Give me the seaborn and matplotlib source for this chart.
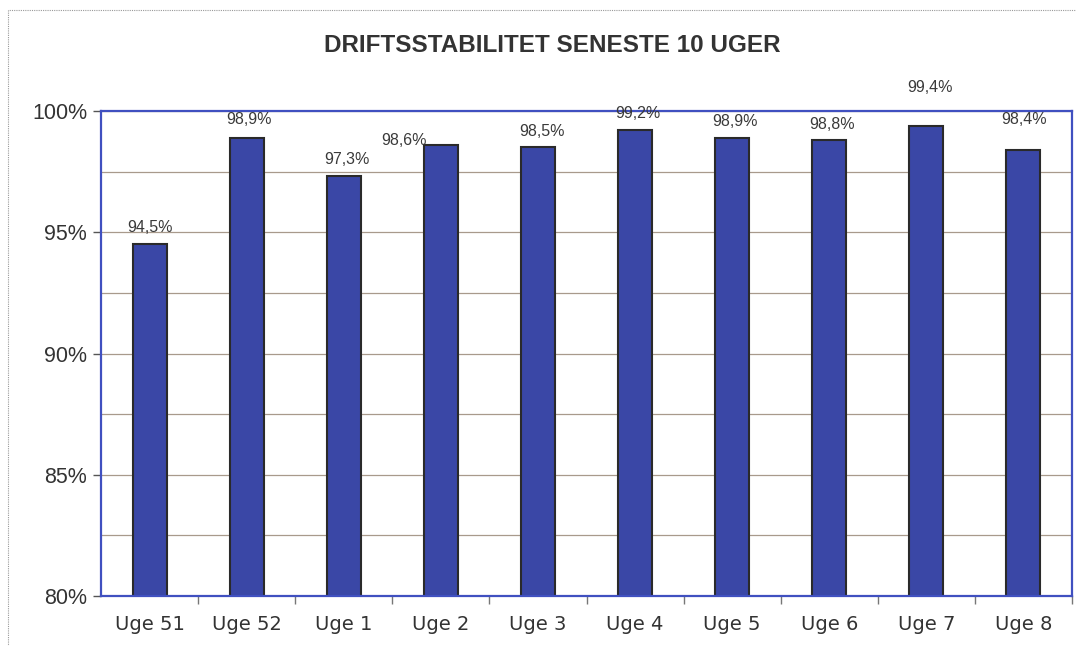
import matplotlib
matplotlib.use("Agg")
import matplotlib.pyplot as plt
import matplotlib.ticker as mticker
from matplotlib.patches import Rectangle
import seaborn as sns
import pandas as pd

weeks = ["Uge 51", "Uge 52", "Uge 1", "Uge 2", "Uge 3",
         "Uge 4", "Uge 5", "Uge 6", "Uge 7", "Uge 8"]
stability = [94.5, 98.9, 97.3, 98.6, 98.5, 99.2, 98.9, 98.8, 99.4, 98.4]

# label offsets in pixels (the labels in the original sit a bit irregularly)
label_dx = [0, 2, 3, -37, 4, 3, 3, 3, 4, 1]
label_dy = [17, 18, 17, 4, 16, 17, 16, 16, 38, 30]

df = pd.DataFrame({"week": weeks, "value": stability})

sns.set_theme(style="white")
plt.rcParams["font.family"] = ["Liberation Sans", "DejaVu Sans"]

fig = plt.figure(figsize=(10.76, 6.46), dpi=100)
ax = fig.add_axes([101 / 1076, 1 - 596 / 646, 971 / 1076, 485 / 646])

sns.barplot(data=df, x="week", y="value", color="#3a47a6", saturation=1,
            width=0.35, edgecolor="#2a2a2a", linewidth=1.5, ax=ax)

ax.set_ylim(80, 100)
ax.set_xlim(-0.5, len(weeks) - 0.5)
ax.yaxis.set_major_locator(mticker.MultipleLocator(5))
ax.yaxis.set_minor_locator(mticker.MultipleLocator(2.5))
ax.yaxis.set_major_formatter(mticker.FuncFormatter(lambda v, p: f"{v:.0f}%"))
ax.grid(True, axis="y", which="both", color="#a89a8c", linewidth=0.9)
ax.set_axisbelow(True)
ax.set_xlabel("")
ax.set_ylabel("")

for s in ax.spines.values():
    s.set_color("#4050c0")
    s.set_linewidth(1.6)

ax.tick_params(axis="y", which="major", left=True, length=6, width=1,
               color="#555555", labelsize=15.5, labelcolor="#333333", pad=4)
ax.tick_params(axis="y", which="minor", left=False)
ax.set_xticks(range(len(weeks)))
ax.set_xticklabels(weeks, fontsize=14, color="#333333", family=["DejaVu Sans"])
ax.tick_params(axis="x", which="major", bottom=False, pad=8)
ax.set_xticks([i - 0.5 for i in range(1, len(weeks) + 1)], minor=True)
ax.tick_params(axis="x", which="minor", bottom=True, length=6, width=1,
               color="#777777")

for i, v in enumerate(stability):
    ax.annotate(f"{v:.1f}%".replace(".", ","), (i, v),
                xytext=(label_dx[i], label_dy[i]), textcoords="offset pixels",
                ha="center", va="center", fontsize=11.5, color="#3a3a3a")

fig.text(552 / 1076, 1 - 45 / 646, "DRIFTSSTABILITET SENESTE 10 UGER",
         ha="center", va="center", fontsize=17.5, fontweight="bold",
         color="#333333")

# dotted frame around the chart
fig.patches.append(Rectangle((8 / 1076, -0.01), 1.1, 1 - 10 / 646 + 0.01,
                             transform=fig.transFigure, fill=False,
                             edgecolor="#999999", linewidth=0.8,
                             linestyle=(0, (1, 1))))

fig.savefig("out.png", dpi=100)
